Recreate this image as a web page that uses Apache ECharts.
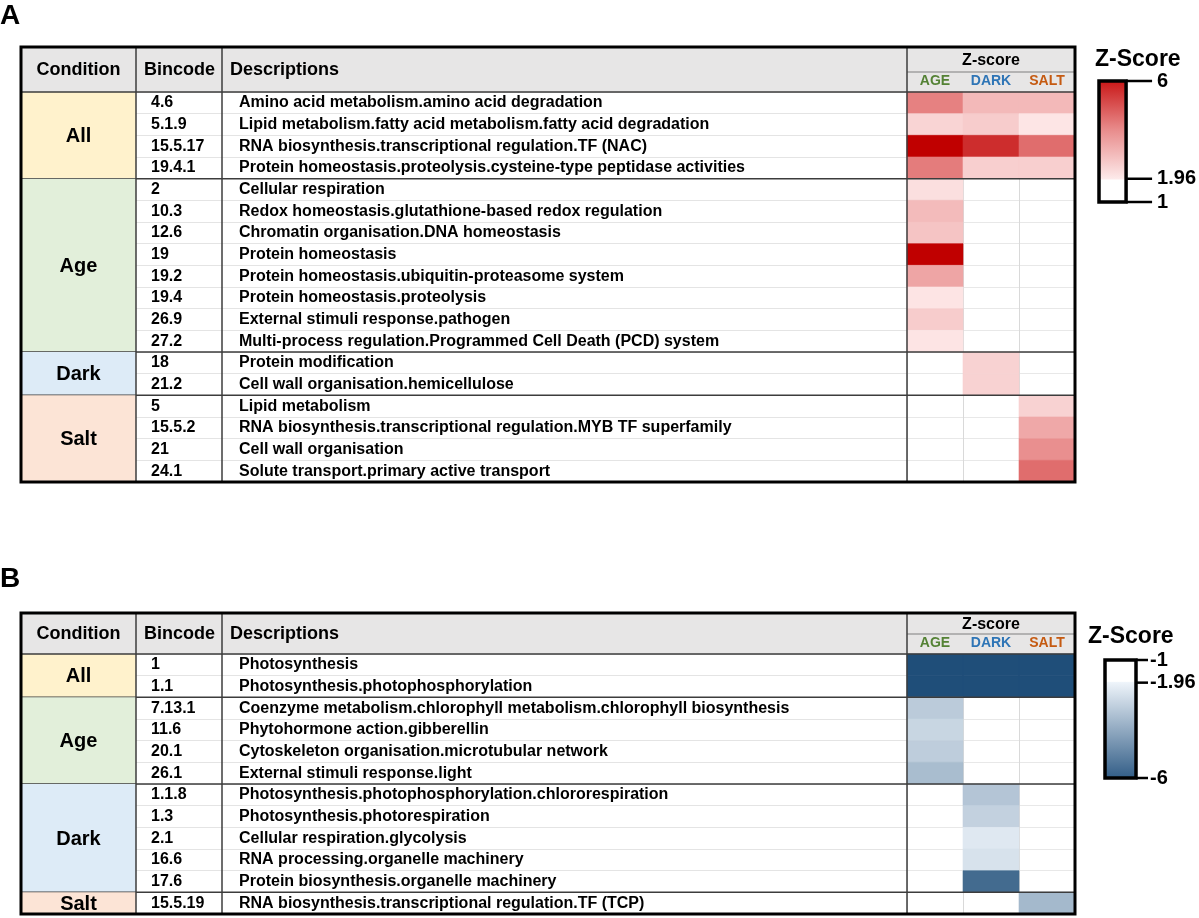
<!DOCTYPE html>
<html><head><meta charset="utf-8">
<script src="https://cdn.jsdelivr.net/npm/echarts@6/dist/echarts.min.js"></script>
<style>html,body{margin:0;padding:0;background:#fff}#chart{width:1199px;height:918px}</style>
</head><body><div id="chart"></div>
<script>
// ---------- DATA ----------
const zColumns = ['AGE', 'DARK', 'SALT'];

// Panel A (up-regulated, positive Z-scores)
const A_condition = ['All','All','All','All','Age','Age','Age','Age','Age','Age','Age','Age','Dark','Dark','Salt','Salt','Salt','Salt'];
const A_bincode = ['4.6','5.1.9','15.5.17','19.4.1','2','10.3','12.6','19','19.2','19.4','26.9','27.2','18','21.2','5','15.5.2','21','24.1'];
const A_desc = [
  'Amino acid metabolism.amino acid degradation',
  'Lipid metabolism.fatty acid metabolism.fatty acid degradation',
  'RNA biosynthesis.transcriptional regulation.TF (NAC)',
  'Protein homeostasis.proteolysis.cysteine-type peptidase activities',
  'Cellular respiration',
  'Redox homeostasis.glutathione-based redox regulation',
  'Chromatin organisation.DNA homeostasis',
  'Protein homeostasis',
  'Protein homeostasis.ubiquitin-proteasome system',
  'Protein homeostasis.proteolysis',
  'External stimuli response.pathogen',
  'Multi-process regulation.Programmed Cell Death (PCD) system',
  'Protein modification',
  'Cell wall organisation.hemicellulose',
  'Lipid metabolism',
  'RNA biosynthesis.transcriptional regulation.MYB TF superfamily',
  'Cell wall organisation',
  'Solute transport.primary active transport'
];
const A_age  = [3.85, 2.35, 6.0, 3.95, 2.16, 2.8, 2.65, 6.0, 3.2, 2.06, 2.5, 2.06, null, null, null, null, null, null];
const A_dark = [2.85, 2.5, 5.25, 2.45, null, null, null, null, null, null, null, null, 2.4, 2.4, null, null, null, null];
const A_salt = [2.85, 2.05, 4.2, 2.45, null, null, null, null, null, null, null, null, null, null, 2.4, 3.15, 3.6, 4.2];
const A_ticks = [1, 1.96, 6];

// Panel B (down-regulated, negative Z-scores)
const B_condition = ['All','All','Age','Age','Age','Age','Dark','Dark','Dark','Dark','Dark','Salt'];
const B_bincode = ['1','1.1','7.13.1','11.6','20.1','26.1','1.1.8','1.3','2.1','16.6','17.6','15.5.19'];
const B_desc = [
  'Photosynthesis',
  'Photosynthesis.photophosphorylation',
  'Coenzyme metabolism.chlorophyll metabolism.chlorophyll biosynthesis',
  'Phytohormone action.gibberellin',
  'Cytoskeleton organisation.microtubular network',
  'External stimuli response.light',
  'Photosynthesis.photophosphorylation.chlororespiration',
  'Photosynthesis.photorespiration',
  'Cellular respiration.glycolysis',
  'RNA processing.organelle machinery',
  'Protein biosynthesis.organelle machinery',
  'RNA biosynthesis.transcriptional regulation.TF (TCP)'
];
const B_age  = [-6, -6, -2.95, -2.7, -2.9, -3.3, null, null, null, null, null, null];
const B_dark = [-6, -6, null, null, null, null, -3.1, -2.8, -2.25, -2.4, -5.3, null];
const B_salt = [-6, -6, null, null, null, null, null, null, null, null, null, -3.4];
const B_ticks = [-6, -1.96, -1];

// ---------- LAYOUT / STYLE ----------
const FONT = '"Liberation Sans", Arial, Helvetica, sans-serif';
const T_LEFT = 21, T_RIGHT = 1075, C1 = 136, C2 = 222, C3 = 907, H_RIGHT = 1075;
const BIN_X = 151, DESC_X = 239;
const DARK_LINE = '#3c3c3c';
const condColors = { All: '#fff2cc', Age: '#e2efda', Dark: '#ddebf7', Salt: '#fce4d6' };
const zColColors = { AGE: '#548235', DARK: '#2e75b6', SALT: '#c55a11' };

function groupsOf(cond) {
  const g = [];
  cond.forEach((c, i) => {
    if (g.length && g[g.length - 1].name === c) g[g.length - 1].end = i;
    else g.push({ name: c, start: i, end: i });
  });
  return g;
}

const option = {
  animation: false,
  backgroundColor: '#ffffff',
  grid: [], xAxis: [], yAxis: [], series: [], visualMap: [],
  graphic: { elements: [] }
};

function addPanel(p) {
  const gi = option.grid.length;
  const xi = option.xAxis.length;
  const yi = option.yAxis.length;
  const h = p.bottom - p.headerBottom;
  const groups = groupsOf(p.condition);
  const values = [p.age, p.dark, p.salt];

  option.grid.push({ left: T_LEFT, top: p.headerBottom, width: C3 - T_LEFT, height: h });
  option.grid.push({ left: C3, top: p.headerBottom, width: H_RIGHT - C3, height: h });
  option.grid.push({ left: p.cb.left, top: p.cb.top, width: p.cb.width, height: p.cb.height });

  const rich = {};
  zColumns.forEach(c => rich[c] = { color: zColColors[c], fontFamily: FONT, fontWeight: 'bold', fontSize: 14 });

  option.xAxis.push({ type: 'value', gridIndex: gi, min: 0, max: C3 - T_LEFT, show: false });
  option.xAxis.push({
    type: 'category', gridIndex: gi + 1, data: zColumns, position: 'top',
    axisLine: { show: false }, axisTick: { show: false },
    axisLabel: { interval: 0, margin: 4, formatter: v => '{' + v + '|' + v + '}', rich: rich },
    splitLine: { show: true, interval: 0, lineStyle: { color: '#d9d9d9', width: 1 } }
  });
  option.xAxis.push({ type: 'value', gridIndex: gi + 2, min: 0, max: 1, show: false });

  option.yAxis.push({
    type: 'category', gridIndex: gi, data: p.bincode, inverse: true,
    axisLine: { show: false }, axisTick: { show: false }, axisLabel: { show: false },
    splitLine: { show: true, interval: 0, lineStyle: { color: '#e4e4e4', width: 1 } }
  });
  option.yAxis.push({
    type: 'category', gridIndex: gi + 1, data: p.bincode, inverse: true,
    axisLine: { show: false }, axisTick: { show: false }, axisLabel: { show: false },
    splitLine: { show: true, interval: 0, lineStyle: { color: '#e8e8e8', width: 1 } }
  });
  option.yAxis.push({
    type: 'value', gridIndex: gi + 2, min: p.range[0], max: p.range[1], position: 'right',
    axisLine: { show: false }, splitLine: { show: false }, axisTick: { show: false },
    axisLabel: { customValues: p.ticks, margin: p.labelMargin, color: '#000', fontFamily: FONT, fontWeight: 'bold', fontSize: 20 }
  });

  // heatmap cells (custom rects coloured through the visualMap)
  const heatData = [];
  p.bincode.forEach((b, i) => {
    values.forEach((arr, c) => { if (arr[i] !== null) heatData.push([c, i, arr[i]]); });
  });
  const heatIndex = option.series.length;
  option.series.push({
    type: 'custom', xAxisIndex: xi + 1, yAxisIndex: yi + 1, data: heatData, z: 2, silent: true,
    encode: { x: 0, y: 1 },
    renderItem: (params, api) => {
      const c = api.coord([api.value(0), api.value(1)]);
      const s = api.size([1, 1]);
      const col = api.visual('color');
      return { type: 'rect', shape: { x: c[0] - s[0] / 2, y: c[1] - s[1] / 2, width: s[0], height: s[1] },
        style: { fill: col, stroke: col, lineWidth: 0.6 } };
    }
  });
  option.visualMap.push({
    type: 'continuous', show: false, seriesIndex: heatIndex, dimension: 2,
    min: p.vmRange[0], max: p.vmRange[1], inRange: { color: p.vmColors }
  });

  // bincode + description texts
  option.series.push({
    type: 'custom', xAxisIndex: xi, yAxisIndex: yi, z: 4, silent: true,
    data: p.bincode.map((b, i) => [0, i]),
    renderItem: (params, api) => {
      const i = api.value(1);
      const y = api.coord([0, i])[1];
      const ts = { fill: '#000', font: 'bold 16px ' + FONT, verticalAlign: 'middle', align: 'left' };
      return { type: 'group', children: [
        { type: 'text', style: Object.assign({ x: BIN_X, y: y, text: p.bincode[i] }, ts) },
        { type: 'text', style: Object.assign({ x: DESC_X, y: y, text: p.desc[i] }, ts) }
      ] };
    }
  });

  // condition merged cells + group separators
  option.series.push({
    type: 'custom', xAxisIndex: xi, yAxisIndex: yi, z: 6, silent: true, clip: false,
    data: groups.map(g => [0, g.start, g.end]),
    renderItem: (params, api) => {
      const g = groups[params.dataIndex];
      const rowH = api.size([0, 1])[1];
      const top = api.coord([0, api.value(1)])[1] - rowH / 2;
      const bot = api.coord([0, api.value(2)])[1] + rowH / 2;
      const children = [
        { type: 'rect', shape: { x: T_LEFT, y: top, width: C1 - T_LEFT, height: bot - top },
          style: { fill: condColors[g.name] } },
        { type: 'text', style: { x: (T_LEFT + C1) / 2, y: (top + bot) / 2 + 1, text: g.name, fill: '#000',
          font: 'bold 20px ' + FONT, align: 'center', verticalAlign: 'middle' } }
      ];
      if (params.dataIndex < groups.length - 1) {
        children.push({ type: 'line', shape: { x1: T_LEFT, y1: bot, x2: T_RIGHT, y2: bot },
          style: { stroke: DARK_LINE, lineWidth: 1.5 } });
      }
      return { type: 'group', children: children };
    }
  });

  // colour bar with tick marks at the tick values
  option.series.push({
    type: 'custom', xAxisIndex: xi + 2, yAxisIndex: yi + 2, z: 3, silent: true, clip: false,
    data: [[0, p.range[0], p.range[1]]],
    renderItem: (params, api) => {
      const p1 = api.coord([0, api.value(2)]);
      const p2 = api.coord([1, api.value(1)]);
      const children = [{ type: 'rect', shape: { x: p1[0], y: p1[1], width: p2[0] - p1[0], height: p2[1] - p1[1] },
        style: { fill: { type: 'linear', x: 0, y: 0, x2: 0, y2: 1, colorStops: p.cbStops }, stroke: '#000', lineWidth: 3.5 } }];
      p.ticks.forEach(t => {
        const ty = api.coord([1, t])[1];
        children.push({ type: 'line', shape: { x1: p2[0], y1: ty, x2: p2[0] + p.tickLen, y2: ty }, style: { stroke: '#000', lineWidth: 2.5 } });
      });
      return { type: 'group', children: children };
    }
  });

  // header & frame graphics
  const E = option.graphic.elements;
  E.push({ type: 'rect', z: -5, shape: { x: T_LEFT, y: p.top, width: T_RIGHT - T_LEFT, height: p.headerBottom - p.top }, style: { fill: '#e7e6e6' } });
  const hy = (p.top + p.headerBottom) / 2 + 1;
  const hs = { fill: '#000', font: 'bold 18px ' + FONT, verticalAlign: 'middle' };
  E.push({ type: 'text', z: 20, style: Object.assign({ x: (T_LEFT + C1) / 2, y: hy, text: 'Condition', align: 'center' }, hs) });
  E.push({ type: 'text', z: 20, style: Object.assign({ x: 144, y: hy, text: 'Bincode', align: 'left' }, hs) });
  E.push({ type: 'text', z: 20, style: Object.assign({ x: 230, y: hy, text: 'Descriptions', align: 'left' }, hs) });
  E.push({ type: 'text', z: 20, style: { x: (C3 + T_RIGHT) / 2, y: (p.top + p.zsub) / 2 + 1, text: 'Z-score', align: 'center', verticalAlign: 'middle', fill: '#000', font: 'bold 16px ' + FONT } });
  E.push({ type: 'line', z: 20, shape: { x1: C3, y1: p.zsub, x2: T_RIGHT, y2: p.zsub }, style: { stroke: '#7f7f7f', lineWidth: 1 } });
  E.push({ type: 'line', z: 20, shape: { x1: T_LEFT, y1: p.headerBottom, x2: T_RIGHT, y2: p.headerBottom }, style: { stroke: DARK_LINE, lineWidth: 1.5 } });
  [C1, C2, C3].forEach(x => E.push({ type: 'line', z: 20, shape: { x1: x, y1: p.top, x2: x, y2: p.bottom }, style: { stroke: DARK_LINE, lineWidth: 1.5 } }));
  E.push({ type: 'rect', z: 30, shape: { x: T_LEFT, y: p.top, width: T_RIGHT - T_LEFT, height: p.bottom - p.top }, style: { fill: 'none', stroke: '#000', lineWidth: 3 } });
  E.push({ type: 'text', z: 20, style: { x: 0, y: p.letterY, text: p.letter, fill: '#000', font: 'bold 28px ' + FONT, align: 'left', verticalAlign: 'middle' } });
  E.push({ type: 'text', z: 20, style: { x: p.cbTitle[0], y: p.cbTitle[1], text: 'Z-Score', fill: '#000', font: 'bold 23px ' + FONT, align: 'left', verticalAlign: 'middle' } });
}

addPanel({
  letter: 'A', letterY: 16, top: 47, zsub: 72, headerBottom: 92, bottom: 482,
  condition: A_condition, bincode: A_bincode, desc: A_desc, age: A_age, dark: A_dark, salt: A_salt,
  vmRange: [1.96, 6], vmColors: ['#feeaea', '#e47a7a', '#c00000'],
  cb: { left: 1099, top: 81, width: 28, height: 121 }, cbTitle: [1095, 60],
  range: [1, 6], ticks: A_ticks, tickLen: 26, labelMargin: 31,
  cbStops: [{ offset: 0, color: '#c81414' }, { offset: 0.4, color: '#e88a8a' }, { offset: 0.8, color: '#fdeaea' }, { offset: 0.81, color: '#ffffff' }, { offset: 1, color: '#ffffff' }]
});

addPanel({
  letter: 'B', letterY: 579, top: 613, zsub: 634, headerBottom: 654, bottom: 914,
  condition: B_condition, bincode: B_bincode, desc: B_desc, age: B_age, dark: B_dark, salt: B_salt,
  vmRange: [-6, -1.96], vmColors: ['#1f4e79', '#eef4fa'],
  cb: { left: 1105, top: 660, width: 31, height: 118 }, cbTitle: [1088, 637],
  range: [-6, -1], ticks: B_ticks, tickLen: 12, labelMargin: 14,
  cbStops: [{ offset: 0, color: '#ffffff' }, { offset: 0.19, color: '#ffffff' }, { offset: 0.2, color: '#eef4fa' }, { offset: 1, color: '#2f5b85' }]
});

const chart = echarts.init(document.getElementById('chart'), null, { renderer: 'canvas' });
chart.setOption(option);
</script>
</body></html>
